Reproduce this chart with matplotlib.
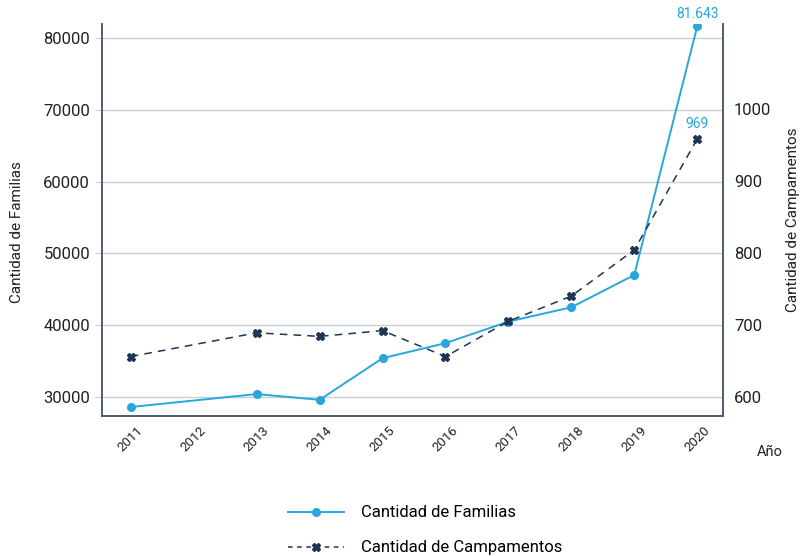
import matplotlib

matplotlib.use("Agg")
import matplotlib.pyplot as plt  # noqa: E402
from matplotlib.lines import Line2D  # noqa: E402

plt.rcParams["font.family"] = ["Roboto", "DejaVu Sans"]

years = [2011, 2013, 2014, 2015, 2016, 2017, 2018, 2019, 2020]
year_ticks = list(range(2011, 2021))
familias = [28600, 30400, 29600, 35400, 37500, 40500, 42500, 47000, 81643]
campamentos = [656, 689, 684, 692, 656, 705, 740, 804, 958]
label_familias = "81.643"
label_campamentos = "969"

BLUE = "#2AA6DE"
NAVY = "#1E3554"
SPINE = "#4A5C75"
TEXT = "#222222"

fig = plt.figure(figsize=(8.02, 5.56), dpi=100)
ax = fig.add_axes([0.127, 0.252, 0.7745, 0.705])
ax2 = ax.twinx()

ax.plot(years, familias, color=BLUE, linewidth=1.4, marker="o", markersize=5.5, zorder=3)
ax2.plot(years, campamentos, color=NAVY, linewidth=1.1, linestyle=(0, (5, 4)),
         marker="X", markersize=5.5, zorder=3)

ax.set_xlim(2010.54, 2020.41)
ax.set_ylim(27360, 82000)
ax2.set_ylim(573.6, 1118)

ax.set_xticks(year_ticks)
ax.set_xticklabels([str(y) for y in year_ticks], rotation=45, fontsize=9.5, color=TEXT)
ax.set_yticks(range(30000, 80001, 10000))
ax.tick_params(axis="y", labelsize=12, colors=TEXT, length=5, color="#C9D0D8")
ax.tick_params(axis="x", length=0, pad=6)
ax2.set_yticks(range(600, 1001, 100))
ax2.tick_params(axis="y", labelsize=12, colors=TEXT, length=0, pad=8)

ax.grid(axis="y", color="#C9D0D8", linewidth=1)
ax.set_axisbelow(True)

for a in (ax, ax2):
    a.spines["top"].set_visible(False)
    for side in ("left", "right", "bottom"):
        a.spines[side].set_color(SPINE)
        a.spines[side].set_linewidth(1.2)

# ejes secundarios y etiquetas
ax.set_ylabel("Cantidad de Familias", fontsize=11, color=TEXT, va="center")
ax.yaxis.set_label_coords(-0.137, 0.47)
ax2.set_ylabel("Cantidad de Campamentos", fontsize=11, color=TEXT, rotation=90, va="center")
ax2.yaxis.set_label_coords(1.113, 0.5)
fig.text(0.96, 0.187, "Año", fontsize=10.5, color=TEXT, ha="center", va="center")

ax.annotate(label_familias, (years[-1], familias[-1]), xytext=(0, 4),
            textcoords="offset points", ha="center", va="bottom", fontsize=10, color=BLUE)
ax2.annotate(label_campamentos, (years[-1], campamentos[-1]), xytext=(0, 6),
             textcoords="offset points", ha="center", va="bottom", fontsize=10, color=BLUE)

handles = [
    Line2D([], [], color=BLUE, linewidth=1.4, marker="o", markersize=5.5),
    Line2D([], [], color=NAVY, linewidth=1.1, linestyle=(0, (3, 3)), marker="X", markersize=5.5),
]
fig.legend(handles, ["Cantidad de Familias", "Cantidad de Campamentos"],
           loc="center", bbox_to_anchor=(0.53, 0.046), frameon=False, fontsize=12,
           handlelength=3.4, labelspacing=1.2, handletextpad=1.0)

fig.savefig("out.png", dpi=100, facecolor="white")
plt.close(fig)
